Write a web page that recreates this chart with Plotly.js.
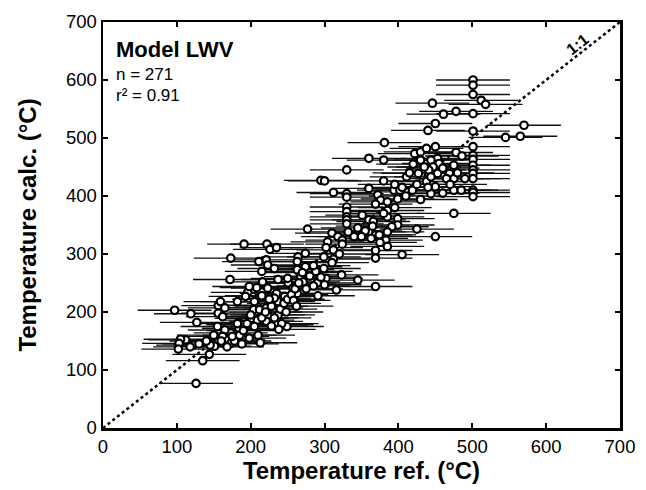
<!DOCTYPE html>
<html>
<head>
<meta charset="utf-8">
<script src="https://cdn.plot.ly/plotly-3.0.1.min.js"></script>
<style>html,body{margin:0;padding:0;background:#fff;}#chart{width:646px;height:490px;}</style>
</head>
<body>
<div id="chart"></div>
<script>
// Reference temperature (°C) of each sample
const tempRef = [
501,501,501,512,518,446,461,478,501,450,440,501,570,545,565,381,360,380,330,422,
430,438,450,501,501,501,478,486,453,444,430,455,475,501,501,447,441,453,427,469,
411,501,501,475,438,380,295,300,444,312,360,330,330,330,330,330,330,330,372,376,
385,399,394,402,413,419,430,444,450,475,501,501,501,475,369,385,385,399,399,351,
360,366,391,425,277,310,332,318,324,360,369,374,363,383,385,450,385,369,405,369,
304,324,302,312,299,312,274,264,263,274,265,288,299,302,300,323,345,316,291,369,
268,271,251,257,223,235,246,237,232,263,196,193,182,207,204,212,221,223,237,201,
209,221,235,249,190,184,173,165,162,170,156,151,145,173,213,122,112,105,103,102,
144,135,126,97,119,127,156,159,165,156,162,191,173,172,222,226,235,211,221,223,
232,215,216,237,250,263,198,208,
185,190,178,195,200,205,215,220,228,232,240,245,250,255,260,242,238,228,210,198,
188,168,160,175,182,265,270,280,285,290,275,258,248,262,340,345,355,365,375,395,
405,415,420,435,460,465,470,480,490,485,460,440,410,425,395,380,350,320,310,295,
285,225,215,205,155,150,140,130,118
];
// Calculated temperature (°C) of each sample
const tempCalc = [
600,591,575,565,558,560,541,546,542,525,513,512,522,501,503,492,465,462,445,473,
476,482,485,485,470,463,475,469,465,462,462,456,453,453,445,450,445,439,439,439,
433,439,430,430,425,426,427,426,433,406,413,404,398,381,373,364,359,352,402,393,
390,395,410,410,407,410,394,404,416,410,410,406,399,370,386,375,364,361,350,367,
359,356,347,343,343,336,338,330,324,338,333,333,327,324,338,330,313,306,299,293,
321,317,311,307,295,291,301,295,287,278,270,270,275,258,247,264,255,238,228,244,
261,252,250,241,241,232,227,218,224,232,234,227,218,212,204,204,207,195,195,189,
186,184,178,175,178,172,164,169,158,152,149,141,143,146,147,143,152,153,146,136,
127,116,77,203,197,182,211,218,207,198,192,317,293,256,317,308,311,287,290,281,
275,270,252,256,258,273,244,242,
160,168,150,180,195,175,190,200,210,190,205,215,222,230,240,180,170,176,160,155,
145,140,150,158,180,250,268,262,280,250,240,220,200,210,330,345,340,348,320,420,
415,440,455,450,448,430,420,440,430,410,405,415,400,420,380,370,330,300,285,260,
245,222,228,218,175,160,150,145,140
];
// Uncertainty of the reference temperature (± °C)
const refError = 50;
const axisTicks = [0,100,200,300,400,500,600,700];
const oneToOne = [0,700];

const FONT = "Liberation Sans, Arial, sans-serif";

const traces = [
  {
    x: oneToOne, y: oneToOne, mode: 'lines', type: 'scatter',
    line: {color: '#000', width: 2.5, dash: 'dot'},
    hoverinfo: 'skip', showlegend: false
  },
  {
    x: tempRef, y: tempCalc, mode: 'markers', type: 'scatter',
    error_x: {type: 'constant', value: refError, color: '#111', thickness: 1.3, width: 0},
    marker: {symbol: 'circle', size: 7.5, color: '#fff', line: {color: '#000', width: 2.2}},
    showlegend: false
  }
];

const axisCommon = {
  range: [0, 700], tickvals: axisTicks, ticktext: axisTicks.map(String),
  ticks: 'inside', ticklen: 5, tickwidth: 2, tickcolor: '#000',
  showline: true, linewidth: 2.5, linecolor: '#000', mirror: 'ticks',
  showgrid: false, zeroline: false,
  tickfont: {family: FONT, size: 18.5, color: '#000'}
};

const layout = {
  width: 646, height: 490,
  margin: {l: 103, r: 26, t: 22, b: 62},
  paper_bgcolor: '#fff', plot_bgcolor: '#fff',
  xaxis: Object.assign({}, axisCommon, {
    title: {text: 'Temperature ref. (°C)', font: {family: FONT, size: 24, color: '#000', weight: 'bold'}, standoff: 6}
  }),
  yaxis: Object.assign({}, axisCommon, {
    title: {text: 'Temperature calc. (°C)', font: {family: FONT, size: 24, color: '#000', weight: 'bold'}, standoff: 23}
  }),
  annotations: [
    {xref: 'paper', yref: 'paper', x: 0.022, y: 0.968, xanchor: 'left', yanchor: 'top',
     text: '<b>Model LWV</b>', showarrow: false, font: {family: FONT, size: 22, color: '#000'}},
    {xref: 'paper', yref: 'paper', x: 0.022, y: 0.9, xanchor: 'left', yanchor: 'top',
     text: 'n = 271', showarrow: false, font: {family: FONT, size: 17, color: '#000'}},
    {xref: 'paper', yref: 'paper', x: 0.022, y: 0.847, xanchor: 'left', yanchor: 'top',
     text: 'r² = 0.91', showarrow: false, font: {family: FONT, size: 17, color: '#000'}},
    {xref: 'x', yref: 'y', x: 642, y: 661, text: '<b>1:1</b>', showarrow: false, textangle: -38,
     font: {family: FONT, size: 16, color: '#000'}}
  ]
};

Plotly.newPlot('chart', traces, layout, {displayModeBar: false, staticPlot: true});
</script>
</body>
</html>
